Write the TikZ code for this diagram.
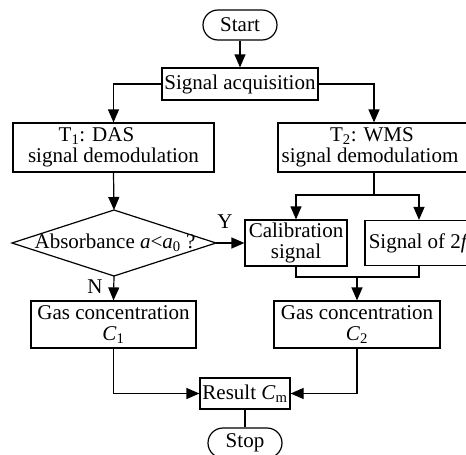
\documentclass[tikz,border=0pt]{standalone}
\usepackage{fontspec}
\setmainfont{Liberation Serif}
\usetikzlibrary{arrows.meta}
\begin{document}
\begin{tikzpicture}[x=1pt,y=-1pt,
  line width=1.2pt,
  font=\fontsize{21}{21}\selectfont,
  arr/.style={-{Triangle[length=13pt,width=11pt]}},
  box/.style={draw,rectangle,inner sep=0pt,align=center},
  term/.style={draw,rectangle,rounded corners=15pt,inner sep=0pt,minimum width=74pt,minimum height=30pt},
  lbl/.style={inner sep=0pt}]
\useasboundingbox (0,0) rectangle (466,455);
\clip (0,0) rectangle (466,455);
\node[term] (start) at (240,25) {Start};
\node[box,minimum width=156pt,minimum height=32pt] (acq) at (240,84) {Signal acquisition};
\node[box,minimum width=201pt,minimum height=49pt] (t1) at (113.5,147.5) {T\textsubscript{1}: DAS\hspace*{34pt}\\signal demodulation};
\node[box,minimum width=192pt,minimum height=49pt] (t2) at (374,147.5) {T\textsubscript{2}: WMS\hspace*{4pt}\\signal demodulatiom\hspace*{8pt}};
\coordinate (dL) at (12,243);
\coordinate (dT) at (114,210);
\coordinate (dR) at (216,243);
\coordinate (dB) at (114,276);
\draw (dL) -- (dT) -- (dR) -- (dB) -- cycle;
\node[lbl] (dec) at (115,243) {Absorbance \textit{a}<\textit{a}\textsubscript{0} ?};
\node[box,minimum width=102pt,minimum height=46pt] (cal) at (296,243) {Calibration\\signal};
\node[box,minimum width=108pt,minimum height=45pt] (sig) at (419,243) {Signal of 2\textit{f}};
\node[box,minimum width=165pt,minimum height=47pt] (c1) at (113.5,324.5) {Gas concentration\\\textit{C}\textsubscript{1}};
\node[box,minimum width=166pt,minimum height=47pt] (c2) at (357,324.5) {Gas concentration\\\textit{C}\textsubscript{2}};
\node[box,minimum width=90pt,minimum height=31pt] (res) at (245,393.5) {Result \textit{C}\textsubscript{m}};
\node[term] (stop) at (245,443) {Stop};
\node[lbl] (Y) at (225,222) {Y};
\node[lbl] (N) at (95,287) {N};
\coordinate (split) at (374,195);
\coordinate (merge) at (357,277);
\draw[arr] (start) -- (acq);
\draw[arr] (acq.west) -| (t1.north);
\draw[arr] (acq.east) -| (t2.north);
\draw[arr] (t1.south) -- (dT);
\draw[arr] (dR) -- (cal.west);
\draw (t2.south) -- (split);
\draw[arr] (split) -| (cal.north);
\draw[arr] (split) -| (sig.north);
\draw (cal.south) |- (merge);
\draw (sig.south) |- (merge);
\draw[arr] (merge) -- (c2.north);
\draw[arr] (dB) -- (c1.north);
\draw[arr] (c1.south) |- (res.west);
\draw[arr] (c2.south) |- (res.east);
\draw (res.south) -- (stop.north);
\end{tikzpicture}
\end{document}
